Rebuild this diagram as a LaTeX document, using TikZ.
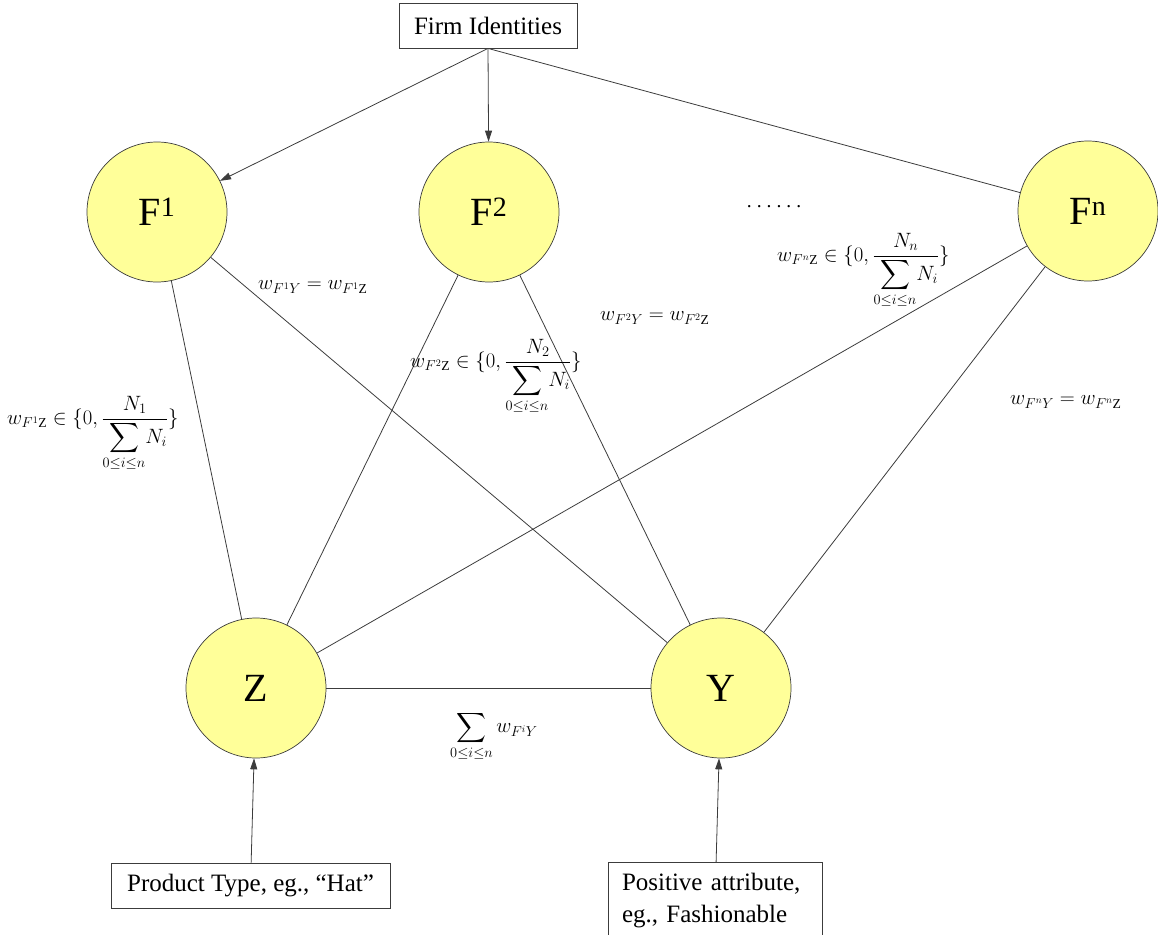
\documentclass[tikz,border=0pt]{standalone}
\usepackage{amsmath}
\usepackage{fontspec}
\setmainfont{Liberation Serif}
\usetikzlibrary{arrows.meta}
\definecolor{circfill}{RGB}{255,255,153}
\definecolor{inkline}{RGB}{60,60,60}
% fraction of a firm's share, with a display-size sum below
\newcommand{\sharefrac}[1]{\frac{N_{#1}}{\displaystyle\sum_{0\le i\le n}\!N_i}}
\begin{document}
\begin{tikzpicture}[x=1pt,y=-1pt,
  agent/.style={circle,draw=inkline,line width=0.7pt,fill=circfill,minimum size=140pt,inner sep=0pt,font=\fontsize{40}{42}\selectfont},
  tagbox/.style={draw=inkline,line width=0.8pt,fill=white,font=\fontsize{25}{32}\selectfont},
  link/.style={draw=inkline,line width=0.8pt},
  arr/.style={link,-{Triangle[length=11pt,width=7pt]}},
  lab/.style={font=\fontsize{19.5}{22}\selectfont,inner sep=0pt},
]
\useasboundingbox (0,0) rectangle (1158,934);

% firms, product and attribute
\node[agent] (f1) at (157,212) {F\textsuperscript{1}};
\node[agent] (f2) at (489,212) {F\textsuperscript{2}};
\node[agent] (fn) at (1088,211) {F\textsuperscript{n}};
\node[agent] (z)  at (256,688) {Z};
\node[agent] (y)  at (721,688) {Y};

\node[tagbox,minimum width=178pt,minimum height=45pt] (firm) at (488,25.5) {Firm Identities};
\node[tagbox,minimum width=279pt,minimum height=45pt] (prod) at (250.5,885.5) {Product Type, eg., ``Hat''};
\node[tagbox,anchor=north,text width=186pt,align=left,inner xsep=14pt,inner ysep=11pt] (attr) at (715,862) {Positive attribute,\\eg., Fashionable};

% identity arrows
\draw[arr] (firm.south) -- (f1);
\draw[arr] (firm.south) -- (f2);
\draw[link] (firm.south) -- (fn);

% weighted links
\draw[link] (f1) -- (z);
\draw[link] (f1) -- (y);
\draw[link] (f2) -- (z);
\draw[link] (f2) -- (y);
\draw[link] (fn) -- (z);
\draw[link] (fn) -- (y);
\draw[link] (z) -- (y);

\draw[arr] (prod) -- (z);
\draw[arr] (attr) -- (y);

% ellipsis between firms
\node[lab] (dots) at (774,207) {.\hspace{5pt}.\hspace{5pt}.\hspace{5pt}.\hspace{5pt}.\hspace{5pt}.};

% edge weights
\node[lab,anchor=west] (w1z) at (7,434) {$\displaystyle w_{F^{1}\mathrm{Z}}\in\{0,\sharefrac{1}\}$};
\node[lab,anchor=west] (w1y) at (258,287) {$w_{F^{1}Y}=w_{F^{1}\mathrm{Z}}$};
\node[lab,anchor=west] (w2z) at (410,377) {$\displaystyle w_{F^{2}\mathrm{Z}}\in\{0,\sharefrac{2}\}$};
\node[lab,anchor=west] (w2y) at (600,318) {$w_{F^{2}Y}=w_{F^{2}\mathrm{Z}}$};
\node[lab,anchor=west] (wnz) at (777,271) {$\displaystyle w_{F^{n}\mathrm{Z}}\in\{0,\sharefrac{n}\}$};
\node[lab,anchor=west] (wny) at (1010,402) {$w_{F^{n}Y}=w_{F^{n}\mathrm{Z}}$};
\node[lab,anchor=west] (wsum) at (450,736) {$\displaystyle\sum_{0\le i\le n}w_{F^{i}Y}$};
\end{tikzpicture}
\end{document}
